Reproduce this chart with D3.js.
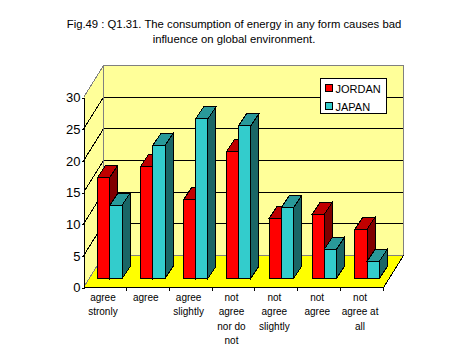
<!DOCTYPE html>
<html>

<head>
    <title>Fig.49</title>
    <script src="https://d3js.org/d3.v7.min.js"></script>
    <style>
        body { margin: 0; background: #fff; }
        text { font-family: "Liberation Sans", sans-serif; fill: #000; }
        polygon, line, path, rect { shape-rendering: crispEdges; }
    </style>
</head>

<body>
    <svg id="chart" width="469" height="360" style="display:block"></svg>

    <script>
        var categories = ["agree strongly", "agree", "agree slightly", "not agree nor do not", "not agree slightly", "not agree", "not agree at all"];
        var categoryLabels = [["agree", "stronly"], ["agree"], ["agree", "slightly"], ["not", "agree", "nor do", "not"], ["not", "agree", "slightly"], ["not", "agree"], ["not", "agree at", "all"]];
        var seriesNames = ["JORDAN", "JAPAN"];
        var jordan = [16, 17.7, 12.4, 20, 9.5, 10.1, 7.8];
        var japan = [11.6, 21, 25.2, 24.1, 11.2, 4.6, 2.7];
        var yTicks = [0, 5, 10, 15, 20, 25, 30];
        var titleLines = ["Fig.49 : Q1.31. The consumption of energy in any form causes bad", "influence on global environment."];

        var seriesValues = [jordan, japan];
        var faceColors = ["#ff0000", "#33cccc"];
        var topColors = ["#c00000", "#299999"];
        var sideColors = ["#800000", "#1a6666"];

        var plotLeft = 83.5, plotRight = 383.5, plotBottom = 287.5, plotTop = 97.5;
        var depthX = 20, depthY = 32;          // wall offset
        var barShiftX = 5, barShiftY = 9;      // where bars stand on the floor
        var barDepthX = 8, barDepthY = 12;

        var svg = d3.select("#chart");

        var x = d3.scaleBand().domain(categories).range([plotLeft, plotRight]);
        var xSeries = d3.scaleBand().domain(seriesNames).range([x.bandwidth() * 0.215, x.bandwidth() * 0.785]);
        var y = d3.scaleLinear().domain([0, 30]).range([plotBottom, plotTop]);

        function poly(points, fill, stroke) {
            return svg.append("polygon")
                .attr("points", points.map(function (p) { return p.join(","); }).join(" "))
                .attr("fill", fill)
                .attr("stroke", stroke || "none");
        }

        function seg(x1, y1, x2, y2, color) {
            return svg.append("line")
                .attr("x1", x1).attr("y1", y1).attr("x2", x2).attr("y2", y2)
                .attr("stroke", color);
        }

        // walls and floor
        poly([[plotLeft + depthX, y(30) - depthY], [plotRight + depthX, y(30) - depthY], [plotRight + depthX, y(0) - depthY], [plotLeft + depthX, y(0) - depthY]], "#ffff99");
        poly([[plotLeft, y(30)], [plotLeft + depthX, y(30) - depthY], [plotLeft + depthX, y(0) - depthY], [plotLeft, y(0)]], "#ffff99");
        poly([[plotLeft, y(0)], [plotLeft + depthX, y(0) - depthY], [plotRight + depthX, y(0) - depthY], [plotRight, y(0)]], "#ffff00");

        // grid
        yTicks.slice(1).forEach(function (t) {
            seg(plotLeft, y(t), plotLeft + depthX, y(t) - depthY, t == 30 ? "#808080" : "#000");
            if (t != 30) seg(plotLeft + depthX, y(t) - depthY, plotRight + depthX, y(t) - depthY, "#000");
        });
        seg(plotLeft + depthX, y(30) - depthY, plotRight + depthX, y(30) - depthY, "#808080");
        seg(plotLeft + depthX, y(30) - depthY, plotLeft + depthX, y(0) - depthY, "#808080");
        seg(plotRight + depthX, y(30) - depthY, plotRight + depthX, y(0) - depthY, "#808080");
        seg(plotLeft, y(0), plotLeft + depthX, y(0) - depthY, "#808080");
        seg(plotLeft + depthX, y(0) - depthY, plotRight + depthX, y(0) - depthY, "#808080");
        seg(plotRight, y(0), plotRight + depthX, y(0) - depthY, "#000");

        // bars
        categories.forEach(function (c, i) {
            seriesNames.forEach(function (s, k) {
                var x0 = x(c) + xSeries(s) + barShiftX;
                var x1 = x0 + xSeries.bandwidth();
                var yBase = y(0) - barShiftY;
                var yTop = yBase - (y(0) - y(seriesValues[k][i]));

                poly([[x1, yTop], [x1 + barDepthX, yTop - barDepthY], [x1 + barDepthX, yBase - barDepthY], [x1, yBase]], sideColors[k], "#000");
                poly([[x0, yTop], [x0 + barDepthX, yTop - barDepthY], [x1 + barDepthX, yTop - barDepthY], [x1, yTop]], topColors[k], "#000");
                poly([[x0, yTop], [x1, yTop], [x1, yBase], [x0, yBase]], faceColors[k], "#000");
            });
        });

        // y axis
        var yAxis = svg.append("g")
            .attr("transform", "translate(" + plotLeft + ",0)")
            .call(d3.axisLeft(y).tickValues(yTicks).tickSize(2).tickPadding(1));
        yAxis.selectAll("path,line").attr("stroke", "#000");
        yAxis.selectAll("text").style("font-size", "13px").style("font-family", "Liberation Sans");

        // x axis
        seg(plotLeft, y(0), plotRight, y(0), "#000");
        categories.forEach(function (c, i) {
            seg(x(c) + x.step(), y(0), x(c) + x.step(), y(0) + 3, "#000");
            var label = svg.append("text")
                .attr("text-anchor", "middle")
                .style("font-size", "10px");
            categoryLabels[i].forEach(function (t, j) {
                label.append("tspan")
                    .attr("x", x(c) + x.bandwidth() / 2 - 2)
                    .attr("y", 300.5 + j * 14.6)
                    .text(t);
            });
        });

        // title
        titleLines.forEach(function (t, j) {
            svg.append("text")
                .attr("x", 234)
                .attr("y", 28 + j * 14.5)
                .attr("text-anchor", "middle")
                .style("font-size", "11.3px")
                .text(t);
        });

        // legend
        var legend = svg.append("g").attr("transform", "translate(320.5,78.5)");
        legend.append("rect").attr("width", 66).attr("height", 35).attr("fill", "#fff").attr("stroke", "#000");
        seriesNames.forEach(function (s, k) {
            legend.append("rect")
                .attr("x", 5).attr("y", 6 + k * 18)
                .attr("width", 7).attr("height", 7)
                .attr("fill", faceColors[k]).attr("stroke", "#000");
            legend.append("text")
                .attr("x", 15).attr("y", 14 + k * 18)
                .style("font-size", "11px")
                .text(s);
        });
    </script>
</body>

</html>
